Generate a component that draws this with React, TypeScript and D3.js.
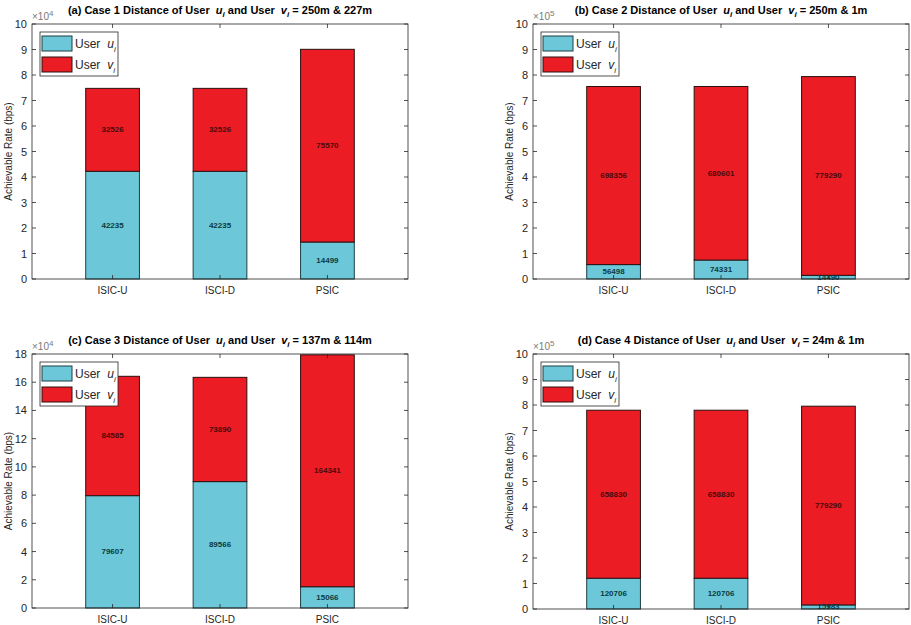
import React from 'react';
import * as d3 from 'd3';

const categories = ['ISIC-U', 'ISCI-D', 'PSIC'];

const userU_a = [42235, 42235, 14499];
const userV_a = [32526, 32526, 75570];
const userU_b = [56498, 74331, 14490];
const userV_b = [698356, 680601, 779290];
const userU_c = [79607, 89566, 15066];
const userV_c = [84585, 73890, 164341];
const userU_d = [120706, 120706, 15983];
const userV_d = [658830, 658830, 779290];

const panelLabels = ['(a) Case 1', '(b) Case 2', '(c) Case 3', '(d) Case 4'];
const distances = ['250m & 227m', '250m & 1m', '137m & 114m', '24m & 1m'];
const yMaxes = [100000, 1000000, 180000, 1000000];
const yExponents = [4, 5, 4, 5];
const yTickCounts = [10, 10, 9, 10];

const seriesU = [userU_a, userU_b, userU_c, userU_d];
const seriesV = [userV_a, userV_b, userV_c, userV_d];

const COLOR_U = '#6cc8d9';
const COLOR_V = '#ec1c24';
const AXIS = '#262626';
const FONT = 'Liberation Sans, Arial, Helvetica, sans-serif';

type Box = { x: number; y: number; w: number; h: number };
const boxes: Box[] = [
  { x: 32, y: 24, w: 376, h: 255 },
  { x: 533, y: 24, w: 376, h: 255 },
  { x: 32, y: 354, w: 376, h: 254 },
  { x: 533, y: 354, w: 376, h: 255 },
];

function Panel({ idx }: { idx: number }) {
  const b = boxes[idx];
  const u = seriesU[idx];
  const v = seriesV[idx];
  const yMax = yMaxes[idx];
  const exp = yExponents[idx];
  const x = d3.scaleLinear().domain([0.25, 3.75]).range([b.x, b.x + b.w]);
  const y = d3.scaleLinear().domain([0, yMax]).range([b.y + b.h, b.y]);
  const ticks = d3.range(0, yTickCounts[idx] + 1).map((i) => (i * yMax) / yTickCounts[idx]);
  const bw = x(1) - x(0.5);
  const tl = 4;
  const cx = b.x + b.w / 2;
  return (
    <g>
      {categories.map((c, i) => {
        const xc = x(i + 1);
        const y0 = y(0);
        const y1 = y(u[i]);
        const y2 = y(u[i] + v[i]);
        return (
          <g key={c}>
            <rect x={xc - bw / 2} y={y1} width={bw} height={y0 - y1} fill={COLOR_U} stroke="#1d3f44" strokeWidth={1} />
            <rect x={xc - bw / 2} y={y2} width={bw} height={y1 - y2} fill={COLOR_V} stroke="#2a1010" strokeWidth={1} />
            <text x={xc} y={(y0 + y1) / 2} textAnchor="middle" dominantBaseline="central" fontFamily={FONT} fontWeight="bold" fontSize={8} fill="#0b3a40">{u[i]}</text>
            <text x={xc} y={(y1 + y2) / 2} textAnchor="middle" dominantBaseline="central" fontFamily={FONT} fontWeight="bold" fontSize={8} fill="#4a0a0a">{v[i]}</text>
          </g>
        );
      })}
      <rect x={b.x} y={b.y} width={b.w} height={b.h} fill="none" stroke={AXIS} strokeWidth={0.8} />
      {ticks.map((t) => (
        <g key={t}>
          <line x1={b.x} x2={b.x + tl} y1={y(t)} y2={y(t)} stroke={AXIS} strokeWidth={0.8} />
          <line x1={b.x + b.w} x2={b.x + b.w - tl} y1={y(t)} y2={y(t)} stroke={AXIS} strokeWidth={0.8} />
          <text x={b.x - 5} y={y(t)} textAnchor="end" dominantBaseline="central" fontFamily={FONT} fontSize={11} fill={AXIS}>
            {t / Math.pow(10, exp)}
          </text>
        </g>
      ))}
      {categories.map((c, i) => (
        <g key={c}>
          <line x1={x(i + 1)} x2={x(i + 1)} y1={b.y + b.h} y2={b.y + b.h - tl} stroke={AXIS} strokeWidth={0.8} />
          <line x1={x(i + 1)} x2={x(i + 1)} y1={b.y} y2={b.y + tl} stroke={AXIS} strokeWidth={0.8} />
          <text x={x(i + 1)} y={b.y + b.h + 11} textAnchor="middle" dominantBaseline="central" fontFamily={FONT} fontSize={10} fill={AXIS}>{c}</text>
        </g>
      ))}
      <text x={b.x} y={b.y - 4} fontFamily={FONT} fontSize={10} fill="#7a7a7a">
        ×10<tspan dy={-4} fontSize={8}>{exp}</tspan>
      </text>
      <text transform={`translate(${b.x - 24},${b.y + b.h / 2}) rotate(-90)`} textAnchor="middle" dominantBaseline="central" fontFamily={FONT} fontSize={10} fill={AXIS}>
        Achievable Rate (bps)
      </text>
      <text x={cx} y={b.y - 10} textAnchor="middle" fontFamily={FONT} fontSize={11} fontWeight="bold" fill="#000">
        {panelLabels[idx]} Distance of User
        <tspan dx={6} fontStyle="italic">u</tspan>
        <tspan fontStyle="italic" fontSize={8} dy={3}>i</tspan>
        <tspan dy={-3}> and User</tspan>
        <tspan dx={6} fontStyle="italic">v</tspan>
        <tspan fontStyle="italic" fontSize={8} dy={3}>i</tspan>
        <tspan dy={-3}> = {distances[idx]}</tspan>
      </text>
      <g transform={`translate(${b.x + 8},${b.y + 8})`}>
        <rect x={0} y={0} width={78} height={44} fill="#fff" stroke={AXIS} strokeWidth={0.8} />
        <rect x={2} y={4} width={30} height={15} fill={COLOR_U} stroke="#1d3f44" strokeWidth={1} />
        <rect x={2} y={25} width={30} height={15} fill={COLOR_V} stroke="#2a1010" strokeWidth={1} />
        <text x={35} y={16} fontFamily={FONT} fontSize={12} fill={AXIS}>
          User<tspan dx={7} fontStyle="italic">u</tspan><tspan fontStyle="italic" fontSize={8} dy={4}>i</tspan>
        </text>
        <text x={35} y={37} fontFamily={FONT} fontSize={12} fill={AXIS}>
          User<tspan dx={7} fontStyle="italic">v</tspan><tspan fontStyle="italic" fontSize={8} dy={4}>i</tspan>
        </text>
      </g>
    </g>
  );
}

export default function App() {
  return (
    <svg width={911} height={625} viewBox="0 0 911 625" style={{ position: 'absolute', left: 0, top: 0, background: '#fff' }}>
      <rect x={0} y={0} width={911} height={625} fill="#fff" />
      {[0, 1, 2, 3].map((i) => (
        <Panel key={i} idx={i} />
      ))}
    </svg>
  );
}
